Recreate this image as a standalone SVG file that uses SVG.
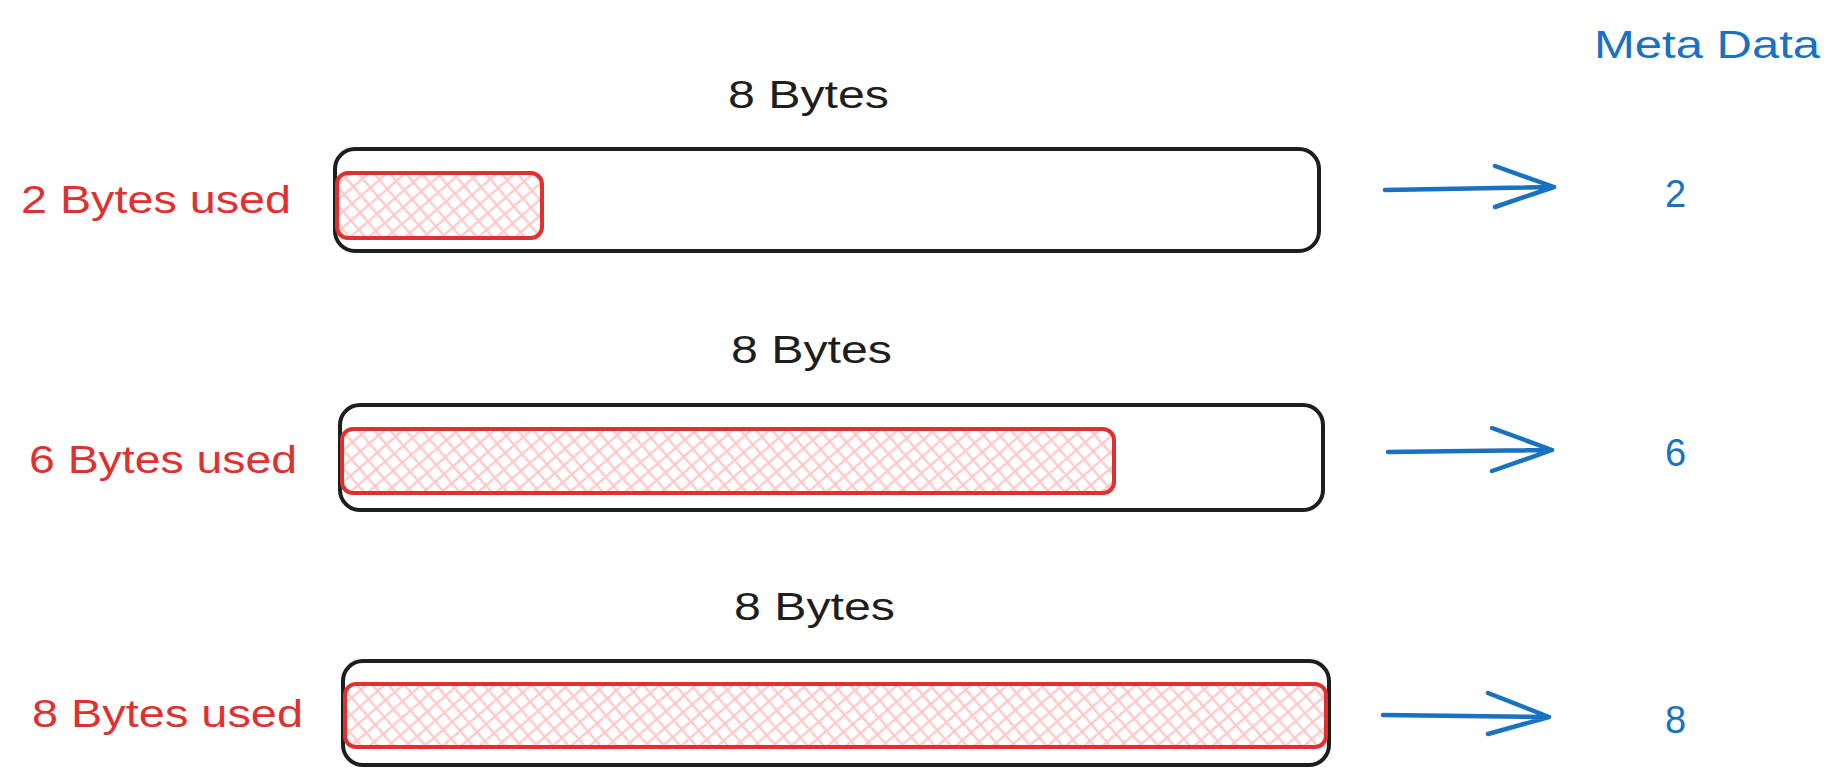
<svg xmlns="http://www.w3.org/2000/svg" width="1842" height="784" viewBox="0 0 1842 784">
  <defs>
    <pattern id="hatch" patternUnits="userSpaceOnUse" width="17" height="17" patternTransform="rotate(4)">
      <path d="M-1,18 L18,-1 M-1,1 L1,-1 M16,18 L18,16" stroke="#ffc9c9" stroke-width="2.3" fill="none"/>
      <path d="M-1,-1 L18,18 M16,-1 L18,1 M-1,16 L1,18" stroke="#ffc9c9" stroke-width="2.3" fill="none"/>
    </pattern>
  </defs>
  <style>
    .box { fill: #ffffff; stroke: #1e1e1e; stroke-width: 4; }
    .used { fill: url(#hatch); stroke: #e03131; stroke-width: 4; }
    .lbl { font-family: "Liberation Sans", Arial, sans-serif; font-size: 38px; }
    .black { fill: #1e1e1e; }
    .red { fill: #e03131; }
    .blue { fill: #1971c2; }
    .arrow { fill: none; stroke: #1971c2; stroke-width: 4.5; stroke-linecap: round; stroke-linejoin: round; }
  </style>
  <rect width="1842" height="784" fill="#ffffff"/>

  <g id="meta-title">
    <text class="lbl blue" x="1594" y="58" textLength="226" lengthAdjust="spacingAndGlyphs">Meta Data</text>
  </g>

  <g id="row1">
    <text class="lbl black" x="728" y="108" textLength="161" lengthAdjust="spacingAndGlyphs">8 Bytes</text>
    <rect class="box" x="335" y="149" width="984" height="102" rx="20"/>
    <rect class="used" x="337" y="173" width="205" height="65" rx="11"/>
    <text class="lbl red" x="21" y="213" textLength="270" lengthAdjust="spacingAndGlyphs">2 Bytes used</text>
    <text class="lbl blue" x="1665" y="207">2</text>
  </g>

  <g id="row2">
    <text class="lbl black" x="731" y="363" textLength="161" lengthAdjust="spacingAndGlyphs">8 Bytes</text>
    <rect class="box" x="340" y="405" width="983" height="105" rx="20"/>
    <rect class="used" x="342" y="429" width="772" height="64" rx="11"/>
    <text class="lbl red" x="29" y="473" textLength="268" lengthAdjust="spacingAndGlyphs">6 Bytes used</text>
    <text class="lbl blue" x="1665" y="466">6</text>
  </g>

  <g id="row3">
    <text class="lbl black" x="734" y="620" textLength="161" lengthAdjust="spacingAndGlyphs">8 Bytes</text>
    <rect class="box" x="343" y="661" width="986" height="104" rx="20"/>
    <rect class="used" x="345" y="684" width="981" height="63" rx="11"/>
    <text class="lbl red" x="32" y="727" textLength="271" lengthAdjust="spacingAndGlyphs">8 Bytes used</text>
    <text class="lbl blue" x="1665" y="733">8</text>
  </g>

  <g id="connectors">
    <path class="arrow" d="M1385,190 L1554,187 M1495,166 L1554,187 L1495,207"/>
    <path class="arrow" d="M1388,452 L1552,450 M1492,428 L1552,450 L1492,471"/>
    <path class="arrow" d="M1383,715 L1549,717 M1488,693 L1549,717 L1488,734"/>
  </g>
</svg>
